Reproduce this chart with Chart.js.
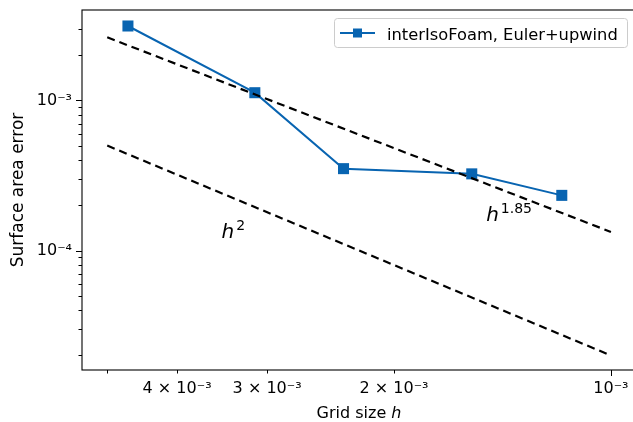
<!DOCTYPE html>
<html>
<head>
<meta charset="utf-8">
<script src="https://cdn.jsdelivr.net/npm/chart.js@4.4.1/dist/chart.umd.min.js"></script>
<style>
  html, body { margin: 0; padding: 0; background: #fff; overflow: hidden; }
  #clip { width: 633px; height: 422px; overflow: hidden; }
  #wrap { width: 640px; height: 422px; }
</style>
</head>
<body>
<div id="clip"><div id="wrap"><canvas id="chart" width="640" height="422"></canvas></div></div>
<script>
// Valeurs
const gridSize = [4.68e-3, 3.12e-3, 2.35e-3, 1.56e-3, 1.17e-3];
const surfaceError = [3.13e-3, 1.125e-3, 3.51e-4, 3.24e-4, 2.33e-4];

// Droites de référence h^1.85 et h^2
const refH = [5e-3, 1e-3];
const refOrder185 = [2.63e-3, 1.33e-4];
const refOrder2 = [5.0e-4, 2.0e-5];

// Graduations
const xTicks = [5e-3, 4e-3, 3e-3, 2e-3, 1e-3];
const xTickLabels = ["", "4 × 10⁻³", "3 × 10⁻³", "2 × 10⁻³", "10⁻³"];
const yTicks = [2e-5, 3e-5, 4e-5, 5e-5, 6e-5, 7e-5, 8e-5, 9e-5,
                1e-4, 2e-4, 3e-4, 4e-4, 5e-4, 6e-4, 7e-4, 8e-4, 9e-4,
                1e-3, 2e-3, 3e-3];
const yTickLabels = { "1e-4": "10⁻⁴", "1e-3": "10⁻³" };

const blue = "#0864b1";
const font = "DejaVu Sans";

function isMajor(v) {
  const l = Math.log10(v);
  return Math.abs(l - Math.round(l)) < 1e-9;
}

function findIndex(list, v) {
  return list.findIndex((t) => Math.abs(t - v) / t < 1e-6);
}

// Cadre, petites graduations, annotations, légende et titre de l'axe x
const decorPlugin = {
  id: "decor",
  afterDraw(chart) {
    const ctx = chart.ctx;
    const area = chart.chartArea;
    const xs = chart.scales.x;
    const ys = chart.scales.y;
    ctx.save();

    // cadre
    ctx.strokeStyle = "#000";
    ctx.lineWidth = 1.1;
    ctx.strokeRect(area.left, area.top, area.right - area.left, area.bottom - area.top);

    // graduations
    ctx.lineWidth = 1;
    xTicks.forEach((v) => {
      const px = Math.round(xs.getPixelForValue(v)) + 0.5;
      const len = isMajor(v) ? 6 : 3.5;
      ctx.beginPath();
      ctx.moveTo(px, area.bottom);
      ctx.lineTo(px, area.bottom + len);
      ctx.stroke();
    });
    yTicks.forEach((v) => {
      const py = Math.round(ys.getPixelForValue(v)) + 0.5;
      const len = isMajor(v) ? 6 : 3.5;
      ctx.beginPath();
      ctx.moveTo(area.left, py);
      ctx.lineTo(area.left - len, py);
      ctx.stroke();
    });

    // annotations h^2 et h^1.85
    const notes = [
      { x: 3.47e-3, y: 1.22e-4, exp: "2" },
      { x: 1.49e-3, y: 1.58e-4, exp: "1.85" },
    ];
    ctx.fillStyle = "#000";
    ctx.textBaseline = "alphabetic";
    ctx.textAlign = "left";
    notes.forEach((n) => {
      const px = xs.getPixelForValue(n.x);
      const py = ys.getPixelForValue(n.y);
      ctx.font = "italic 20px '" + font + "'";
      ctx.fillText("h", px, py);
      const w = ctx.measureText("h").width;
      ctx.font = "14px '" + font + "'";
      ctx.fillText(n.exp, px + w + 2, py - 8);
    });

    // titre axe x : "Grid size h"
    ctx.font = "16px '" + font + "'";
    const t1 = "Grid size ";
    const w1 = ctx.measureText(t1).width;
    ctx.font = "italic 16px '" + font + "'";
    const w2 = ctx.measureText("h").width;
    const cx = (area.left + area.right) / 2;
    const startX = cx - (w1 + w2) / 2;
    ctx.font = "16px '" + font + "'";
    ctx.fillText(t1, startX, 418);
    ctx.font = "italic 16px '" + font + "'";
    ctx.fillText("h", startX + w1, 418);

    // légende
    ctx.beginPath();
    ctx.roundRect(334.5, 18.5, 293, 29, 3);
    ctx.fillStyle = "rgba(255,255,255,0.8)";
    ctx.fill();
    ctx.strokeStyle = "#cccccc";
    ctx.lineWidth = 1;
    ctx.stroke();
    ctx.strokeStyle = blue;
    ctx.lineWidth = 2;
    ctx.beginPath();
    ctx.moveTo(340, 33);
    ctx.lineTo(375, 33);
    ctx.stroke();
    ctx.fillStyle = blue;
    ctx.fillRect(353, 28.5, 9, 9);
    ctx.fillStyle = "#000";
    ctx.font = "16.3px '" + font + "'";
    ctx.fillText(chart.data.datasets[0].label, 387, 40);

    ctx.restore();
  },
};

const ctx = document.getElementById("chart").getContext("2d");
const chart = new Chart(ctx, {
  type: "line",
  data: {
    datasets: [
      {
        label: "interIsoFoam, Euler+upwind",
        data: gridSize.map((h, i) => ({ x: h, y: surfaceError[i] })),
        borderColor: blue,
        backgroundColor: blue,
        borderWidth: 2,
        pointStyle: "rect",
        pointRadius: 7.8,
        pointBorderWidth: 0,
        pointBackgroundColor: blue,
        order: 1,
      },
      {
        label: "h^1.85",
        data: refH.map((h, i) => ({ x: h, y: refOrder185[i] })),
        borderColor: "#000",
        borderWidth: 2.2,
        borderDash: [8, 5],
        pointRadius: 0,
        order: 0,
      },
      {
        label: "h^2",
        data: refH.map((h, i) => ({ x: h, y: refOrder2[i] })),
        borderColor: "#000",
        borderWidth: 2.2,
        borderDash: [8, 5],
        pointRadius: 0,
        order: 0,
      },
    ],
  },
  options: {
    responsive: false,
    animation: false,
    layout: { autoPadding: false, padding: { top: 10, right: 4, left: 0, bottom: 0 } },
    plugins: {
      legend: { display: false },
      tooltip: { enabled: false },
    },
    scales: {
      x: {
        type: "logarithmic",
        reverse: true,
        min: 9.23e-4,
        max: 5.42e-3,
        afterBuildTicks: (scale) => {
          scale.ticks = xTicks.map((v) => ({ value: v }));
        },
        afterFit: (scale) => {
          scale.height = 52;
          scale.paddingLeft = 0;
          scale.paddingRight = 0;
        },
        ticks: {
          autoSkip: false,
          maxRotation: 0,
          padding: 3,
          color: "#000",
          font: { family: font, size: 16 },
          callback: (value) => {
            const i = findIndex(xTicks, value);
            return i >= 0 ? xTickLabels[i] : "";
          },
        },
        grid: { drawOnChartArea: false, tickLength: 6, tickColor: "transparent" },
        border: { display: false },
      },
      y: {
        type: "logarithmic",
        min: 1.6e-5,
        max: 4.0e-3,
        afterBuildTicks: (scale) => {
          scale.ticks = yTicks.map((v) => ({ value: v }));
        },
        afterFit: (scale) => {
          scale.width = 82;
          scale.paddingTop = 0;
          scale.paddingBottom = 0;
        },
        ticks: {
          autoSkip: false,
          padding: 4,
          color: "#000",
          font: { family: font, size: 16 },
          callback: (value) => {
            const key = Number(value).toExponential(0).replace("+", "");
            return yTickLabels[key] || "";
          },
        },
        grid: { drawOnChartArea: false, tickLength: 6, tickColor: "transparent" },
        border: { display: false },
        title: {
          display: true,
          text: "Surface area error",
          color: "#000",
          font: { family: font, size: 17 },
          padding: { top: 8, bottom: 2 },
        },
      },
    },
  },
  plugins: [decorPlugin],
});
</script>
</body>
</html>
